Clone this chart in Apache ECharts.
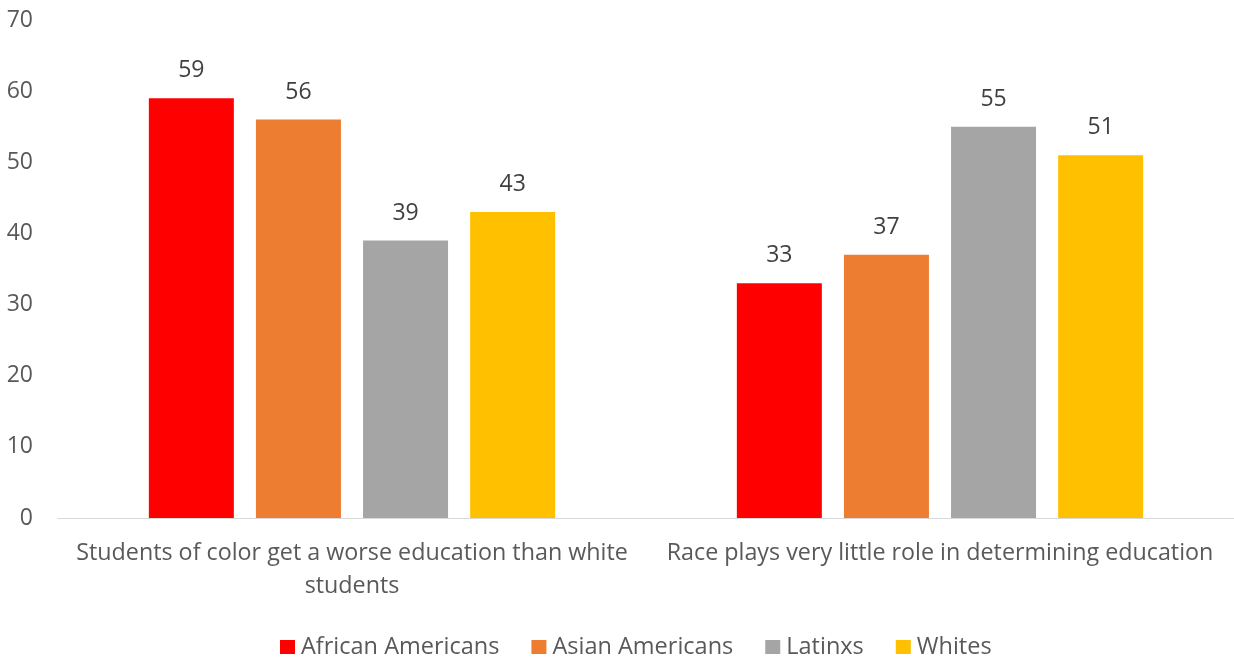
<!DOCTYPE html>
<html><head><meta charset="utf-8">
<script src="https://cdn.jsdelivr.net/npm/echarts@6/dist/echarts.min.js"></script>
<style>html,body{margin:0;padding:0;background:#fff}#c{width:1234px;height:659px}</style>
</head><body><div id="c"></div>
<script>
const categories = ["Students of color get a worse education than white\nstudents", "Race plays very little role in determining education"];
const seriesNames = ["African Americans", "Asian Americans", "Latinxs", "Whites"];
const africanAmericans = [59, 33];
const asianAmericans = [56, 37];
const latinxs = [39, 55];
const whites = [43, 51];
const yTicks = [0, 10, 20, 30, 40, 50, 60, 70];
const colors = ["#FF0000", "#ED7D31", "#A5A5A5", "#FFC000"];
const values = [africanAmericans, asianAmericans, latinxs, whites];

const font = "'Open Sans', sans-serif";
const chart = echarts.init(document.getElementById('c'));
chart.setOption({
  animation: false,
  grid: {left: 58, right: -2, top: 20, bottom: 141},
  legend: {
    top: 630, left: 275, itemWidth: 15, itemHeight: 14, itemGap: 32,
    icon: 'rect',
    textStyle: {fontFamily: font, fontSize: 23.5, color: '#595959', padding: [0, 0, 0, 1]},
    data: seriesNames
  },
  xAxis: {
    type: 'category', data: categories,
    axisLine: {lineStyle: {color: '#D9D9D9', width: 1}},
    axisTick: {show: false},
    axisLabel: {interval: 0, fontFamily: font, fontSize: 23.3, color: '#595959', lineHeight: 33, margin: 19}
  },
  yAxis: {
    type: 'value', min: yTicks[0], max: yTicks[yTicks.length-1], interval: 10,
    splitLine: {show: false},
    axisLine: {show: false}, axisTick: {show: false},
    axisLabel: {fontFamily: font, fontSize: 23, color: '#595959', margin: 25}
  },
  series: seriesNames.map((n, i) => ({
    name: n, type: 'bar', data: values[i],
    barWidth: 85, barGap: '26%',
    itemStyle: {color: colors[i]},
    label: {show: true, position: 'top', distance: 16, fontFamily: font, fontSize: 23, color: '#404040'}
  }))
});
</script></body></html>
